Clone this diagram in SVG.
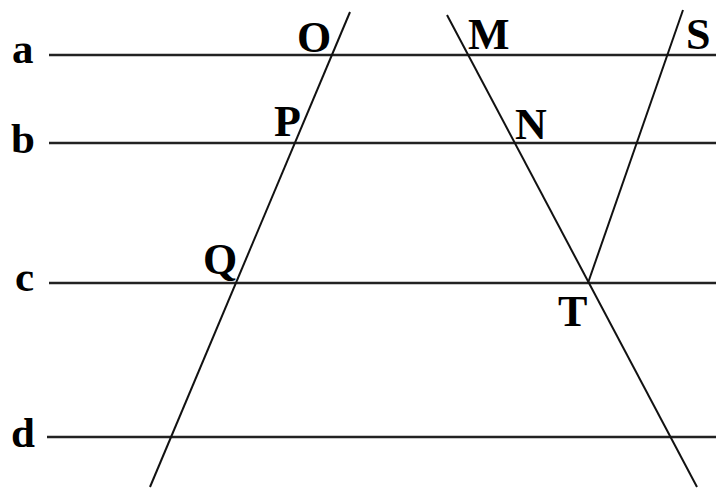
<svg xmlns="http://www.w3.org/2000/svg" width="716" height="489" viewBox="0 0 716 489">
<style>
.h{stroke:#222;stroke-width:2.4;fill:none}
.s{stroke:#111;stroke-width:2;fill:none}
text{font-family:"Liberation Serif","Times New Roman",serif;font-weight:bold;fill:#000}
.lb{font-size:43px}
.pt{font-size:44px}
</style>
<rect width="716" height="489" fill="#fff"/>
<g id="connectors">
<line class="h" x1="49" y1="55" x2="716" y2="55"/>
<line class="h" x1="49" y1="143" x2="716" y2="143"/>
<line class="h" x1="49" y1="283" x2="716" y2="283"/>
<line class="h" x1="47" y1="437" x2="716" y2="437"/>
<line class="s" x1="350" y1="12" x2="150" y2="487"/>
<line class="s" x1="447" y1="15" x2="697" y2="487"/>
<line class="s" x1="683" y1="10" x2="588" y2="283"/>
</g>
<g id="label-a"><text class="lb" x="12" y="63">a</text></g>
<g id="label-b"><text class="lb" x="11" y="153">b</text></g>
<g id="label-c"><text class="lb" x="15" y="291">c</text></g>
<g id="label-d"><text class="lb" x="11" y="447">d</text></g>
<g id="point-O"><text class="pt" x="297" y="52">O</text></g>
<g id="point-P"><text class="pt" x="274" y="136">P</text></g>
<g id="point-Q"><text class="pt" x="203" y="274">Q</text></g>
<g id="point-M"><text class="pt" x="468" y="49">M</text></g>
<g id="point-N"><text class="pt" x="515" y="139">N</text></g>
<g id="point-S"><text class="pt" x="686" y="49">S</text></g>
<g id="point-T"><text class="pt" x="558" y="326">T</text></g>
</svg>
